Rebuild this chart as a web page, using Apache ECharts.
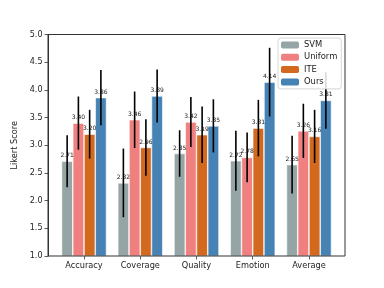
<!DOCTYPE html>
<html><head><meta charset="utf-8">
<script src="https://cdn.jsdelivr.net/npm/echarts@6/dist/echarts.min.js"></script>
<style>html,body{margin:0;padding:0;background:#fff}#c{width:384px;height:288px}</style>
</head><body><div id="c"></div>
<script>
const categories = ['Accuracy', 'Coverage', 'Quality', 'Emotion', 'Average'];
const seriesNames = ['SVM', 'Uniform', 'ITE', 'Ours'];
const svm = [2.71, 2.32, 2.85, 2.72, 2.65];
const uniform = [3.40, 3.46, 3.42, 2.78, 3.26];
const ite = [3.20, 2.96, 3.19, 3.31, 3.16];
const ours = [3.86, 3.89, 3.35, 4.14, 3.81];
const svmErr = [0.47, 0.62, 0.42, 0.54, 0.52];
const uniformErr = [0.48, 0.51, 0.45, 0.45, 0.49];
const iteErr = [0.44, 0.51, 0.51, 0.51, 0.48];
const oursErr = [0.50, 0.48, 0.48, 0.62, 0.51];
const yTicks = ['1.0', '1.5', '2.0', '2.5', '3.0', '3.5', '4.0', '4.5', '5.0'];

const colors = ['#95a5a6', '#f08080', '#d2691e', '#4682b4'];
const values = [svm, uniform, ite, ours];
const errs = [svmErr, uniformErr, iteErr, oursErr];
const FONT = 'DejaVu Sans';

const chart = echarts.init(document.getElementById('c'), null, {renderer: 'canvas'});

const series = [];
values.forEach((vals, k) => {
  series.push({
    name: seriesNames[k], type: 'bar', xAxisIndex: 0, yAxisIndex: 0,
    data: vals, barGap: '0%', barCategoryGap: '20%',
    itemStyle: {color: colors[k], borderColor: '#fff', borderWidth: 0.6},
    label: {show: true, position: 'top', distance: 2.5, fontSize: 6, fontFamily: FONT, color: '#222',
      formatter: p => p.value.toFixed(2)},
    z: 2
  });
});
values.forEach((vals, k) => {
  series.push({
    name: 'err' + k, type: 'custom', xAxisIndex: 0, yAxisIndex: 0, z: 5,
    data: vals.map((v, i) => [i, v - errs[k][i], v + errs[k][i]]),
    renderItem: (params, api) => {
      const band = api.size([1, 0])[0];
      const bw = band * 0.2;
      const off = (k - 1.5) * bw;
      const p1 = api.coord([api.value(0), api.value(1)]);
      const p2 = api.coord([api.value(0), api.value(2)]);
      return {type: 'line', shape: {x1: p1[0] + off, y1: p1[1], x2: p2[0] + off, y2: p2[1]},
        style: {stroke: '#000', lineWidth: 1.6}};
    }
  });
});

chart.setOption({
  animation: false,
  backgroundColor: '#fff',
  color: colors,
  grid: [
    {left: 55.9, right: 46.9, top: 34.5, bottom: 32, show: false},
    {left: 48, right: 39, top: 34.5, bottom: 32, show: true, borderColor: '#333', borderWidth: 1, backgroundColor: 'transparent', z: 10}
  ],
  xAxis: [
    {type: 'category', gridIndex: 0, data: categories,
      axisLine: {show: false},
      axisTick: {show: true, alignWithLabel: true, length: 3.5, lineStyle: {color: '#333', width: 0.8}},
      axisLabel: {fontSize: 8.2, fontFamily: FONT, color: '#222', margin: 5.5}},
    {type: 'value', gridIndex: 1, show: false, min: 0, max: 1}
  ],
  yAxis: [
    {type: 'value', gridIndex: 0, min: 1, max: 5, show: false},
    {type: 'value', gridIndex: 1, min: 1, max: 5, interval: 0.5,
      name: 'Likert Score', nameLocation: 'middle', nameGap: 21,
      nameTextStyle: {fontSize: 8.2, fontFamily: FONT, color: '#222'},
      axisLine: {show: true, lineStyle: {color: '#333', width: 1}},
      axisTick: {show: true, length: 3.5, lineStyle: {color: '#333', width: 0.8}},
      splitLine: {show: false},
      axisLabel: {fontSize: 8, fontFamily: FONT, color: '#222', margin: 5.5,
        formatter: v => yTicks[Math.round((v - 1) / 0.5)]}}
  ],
  legend: {
    data: seriesNames, orient: 'vertical', left: 278, top: 38,
    itemWidth: 18, itemHeight: 7, itemGap: 2.3,
    padding: [2, 4, 2, 3],
    backgroundColor: 'rgba(255,255,255,0.85)', borderColor: '#ccc', borderWidth: 0.8, borderRadius: 3,
    textStyle: {fontSize: 8.4, fontFamily: FONT, color: '#222', lineHeight: 10},
    itemStyle: {borderWidth: 0},
    z: 20
  },
  series: series
});
</script></body></html>
